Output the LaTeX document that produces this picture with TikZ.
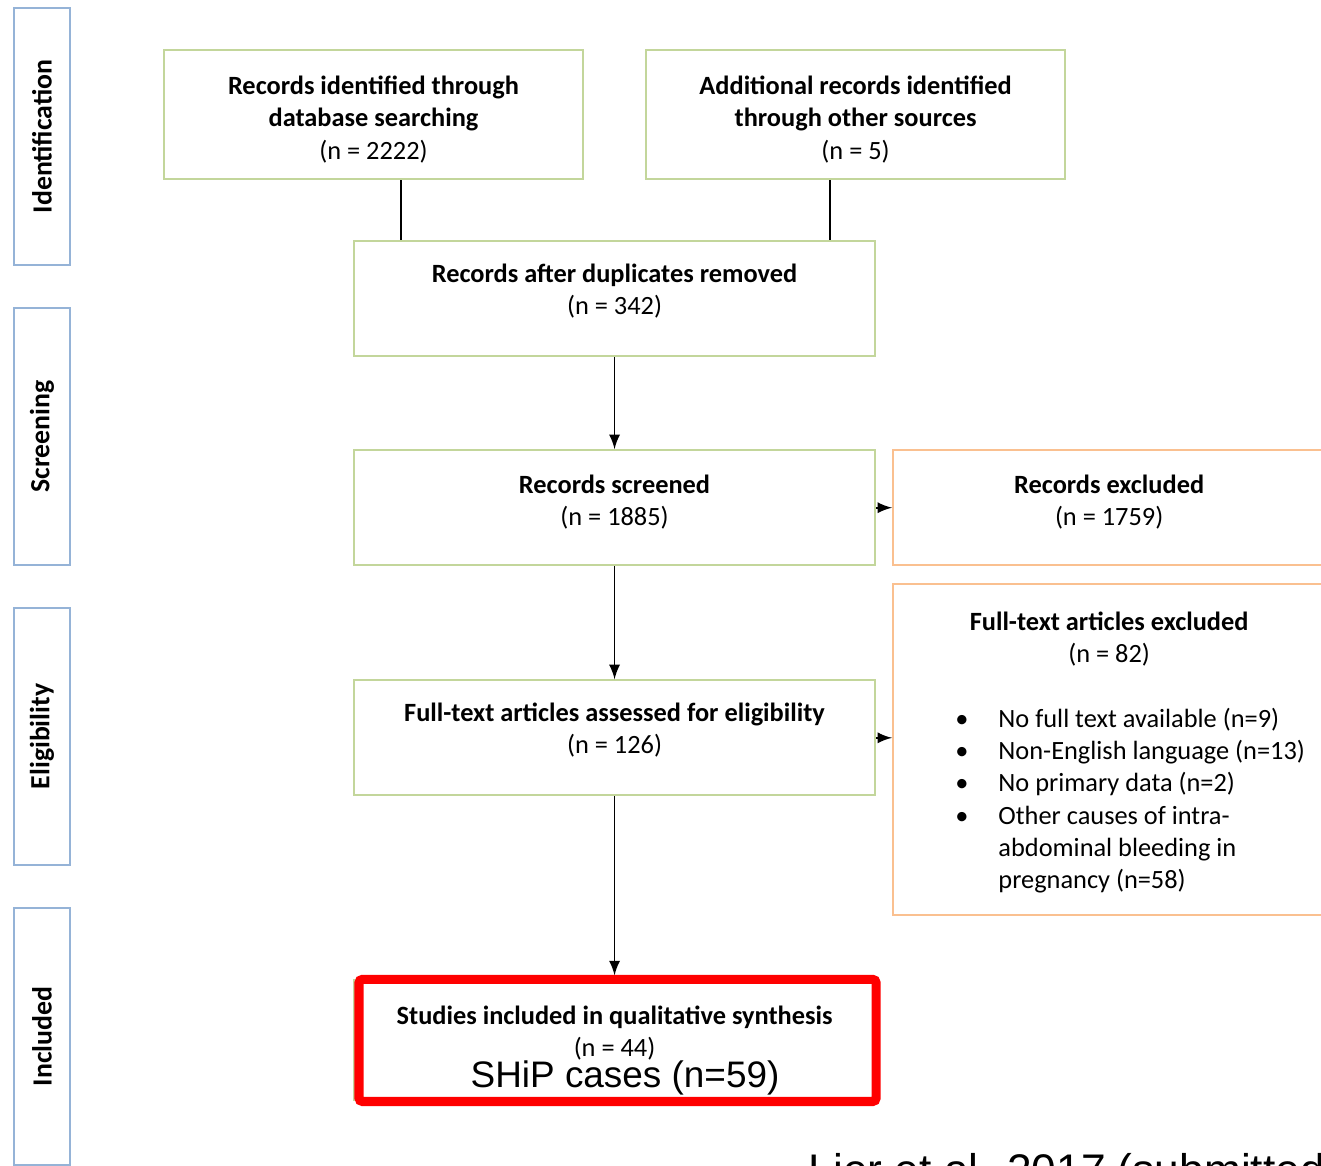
\documentclass[tikz,border=0pt]{standalone}
\usepackage{fontspec}
\setmainfont{Carlito}
\newfontfamily\arialfont{Liberation Sans}
\usetikzlibrary{positioning,calc}
\definecolor{boxgreen}{HTML}{C3D69B}
\definecolor{boxorange}{HTML}{FAC090}
\definecolor{boxblue}{HTML}{95B3D7}

\begin{document}
\begin{tikzpicture}[
	main/.style={rectangle, draw=boxgreen, line width=0.6pt, align=center, text centered, minimum width=5.21cm, minimum height=1.15cm, inner sep=0pt, font=\fontsize{7.5}{9.2}\selectfont},
	raised/.style={text depth=5.3pt},
	src/.style={main, minimum width=4.19cm, minimum height=1.29cm, text height=26.5pt},
	excluded/.style={main, draw=boxorange, minimum width=4.32cm},
	phase/.style={rectangle, draw=boxblue, line width=0.7pt, rotate=90, minimum width=2.57cm, minimum height=0.56cm, inner sep=0pt, font=\fontsize{7.9}{9}\selectfont\bfseries},
	conn/.style={line width=0.45pt},
	redframe/.style={draw=red, line width=2.6pt, rounded corners=1pt}
	]
	\useasboundingbox (0,0) rectangle (13.21,-11.66);

		\node (ident) [phase] at (0.42,-1.365) {Identification};
		\node (screen) [phase] at (0.42,-4.365) {Screening};
		\node (elig) [phase] at (0.42,-7.365) {Eligibility};
		\node (incphase) [phase] at (0.42,-10.365) {Included};

		\node (db) [src] at (3.735,-1.145) {\textbf{Records identified through}\\\textbf{database searching}\\(n = 2222)};
		\node (other) [src, right=0.61cm of db] {\textbf{Additional records identified}\\\textbf{through other sources}\\(n = 5)};
			\coordinate (mid) at ($(db.south)!0.5!(other.south)$);
			\node (dup) [main, raised, below=0.60cm of mid] {\textbf{Records after duplicates removed}\\(n = 342)};
			\node (screened) [main, raised, text depth=4.4pt, below=0.92cm of dup] {\textbf{Records screened}\\(n = 1885)};
				\node (excl) [excluded, raised, text depth=4.4pt, right=0.16cm of screened] {\textbf{Records excluded}\\(n = 1759)};
			\node (fulltext) [main, raised, below=1.13cm of screened] {\textbf{Full-text articles assessed for eligibility}\\(n = 126)};
				\node (ftexcl) [excluded, minimum height=3.31cm, below=0.17cm of excl] {\rule{0pt}{8.2pt}\textbf{Full-text articles excluded}\\(n = 82)\\[9.2pt]
					\hspace*{0.42cm}\begin{tabular}[t]{@{}l@{\hspace{0.3cm}}l@{}}
					\textbullet & No full text available (n=9)\\
					\textbullet & Non-English language (n=13)\\
					\textbullet & No primary data (n=2)\\
					\textbullet & Other causes of intra-\\
					 & abdominal bleeding in\\
					 & pregnancy (n=58)
					\end{tabular}};
			\node (incl) [main, raised, minimum height=1.2cm, below=1.83cm of fulltext] {\textbf{Studies included in qualitative synthesis}\\(n = 44)};
			\node (ship) [font=\arialfont\fontsize{10.5}{12}\selectfont, inner sep=0pt, above=0.6mm of incl.south, xshift=1.05mm] {SHiP cases (n=59)};

	\node (cite) [font=\arialfont\fontsize{12.6}{14}\selectfont, inner sep=0pt, anchor=base west] at (8.08,-11.85) {Lier et al. 2017 (submitted)};

	\coordinate (dbfoot) at ([xshift=0.275cm]db.south);
	\coordinate (otherfoot) at ([xshift=-0.255cm]other.south);
	\draw [conn] (dbfoot) -- (dbfoot |- dup.north);
	\draw [conn] (otherfoot) -- (otherfoot |- dup.north);

	\draw [conn, -latex] (dup) -- (screened);
	\draw [conn, -latex] (screened) -- (fulltext);
	\draw [conn, -latex] (fulltext) -- ([yshift=0.04cm]incl.north);

	\draw [conn, -latex] (screened) -- (excl);
	\draw [conn, -latex] (fulltext.east) -- (fulltext.east -| ftexcl.west);

	\draw [redframe] ([xshift=0.06cm]incl.south west) rectangle (incl.north east);

	\end{tikzpicture}
\end{document}
